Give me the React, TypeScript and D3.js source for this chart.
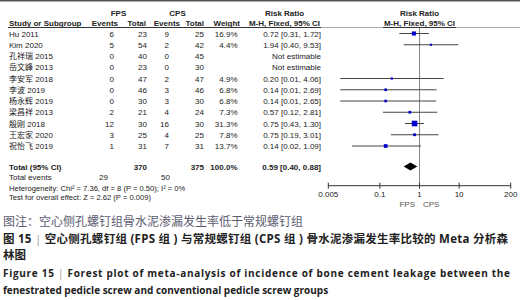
import React from "react";
import * as d3 from "d3";

const studies = ["Hu 2011", "Kim 2020", "孔祥瑞 2015", "岳文峰 2013", "李安军 2018", "李波 2019", "杨永辉 2019", "梁昌祥 2013", "殷刚 2018", "王宏家 2020", "祝怡飞 2019"];
const fpsEvents = [6, 5, 0, 0, 0, 0, 0, 2, 12, 3, 1];
const fpsTotal = [23, 54, 40, 23, 47, 46, 30, 21, 30, 25, 31];
const cpsEvents = [9, 2, 0, 0, 2, 3, 3, 4, 16, 4, 7];
const cpsTotal = [25, 42, 45, 30, 47, 46, 30, 24, 30, 25, 31];
const weights: (number | null)[] = [16.9, 4.4, null, null, 4.9, 6.8, 6.8, 7.3, 31.3, 7.8, 13.7];
const rr: (number | null)[] = [0.72, 1.94, null, null, 0.2, 0.14, 0.14, 0.57, 0.75, 0.75, 0.14];
const lo: (number | null)[] = [0.31, 0.4, null, null, 0.01, 0.01, 0.01, 0.12, 0.43, 0.19, 0.02];
const hi: (number | null)[] = [1.72, 9.53, null, null, 4.06, 2.69, 2.65, 2.81, 1.3, 3.01, 1.09];
const total = { fps: 370, cps: 375, weight: "100.0%", rr: 0.59, lo: 0.4, hi: 0.88, fpsEv: 29, cpsEv: 50 };
const tickValues = [0.005, 0.1, 1, 10, 200];
const tickLabels = ["0.005", "0.1", "1", "10", "200"];

const F = "'Liberation Sans', Arial, sans-serif";
const CJK = "'Noto Sans CJK SC', sans-serif";

export default function App() {
  const x = d3.scaleLog().domain([0.005, 200]).range([328.3, 510.7]);
  const rowY = (i: number) => 36.5 + 11.25 * i;
  const size = d3.scaleSqrt().domain([0, 31.3]).range([0, 5.6]);
  const fmt = (v: number) => v.toFixed(2);
  const axisY = 185.7;
  const totY = 169.5;
  const txt = { fontFamily: F, fontSize: 8, fill: "#222" } as const;

  return (
    <div style={{ position: "fixed", left: 0, top: 0, width: 531, height: 300, background: "#fff" }}>
      <svg width={531} height={300} style={{ display: "block" }}>
        <line x1={0} x2={520} y1={0.75} y2={0.75} stroke="#555" strokeWidth={1.5} />
        {/* header */}
        <g {...txt} fontWeight="bold">
          <text x={118.5} y={15.5} textAnchor="middle">FPS</text>
          <text x={177.5} y={15.5} textAnchor="middle">CPS</text>
          <text x={284.5} y={15.5} textAnchor="middle">Risk Ratio</text>
          <text x={419.5} y={15.5} textAnchor="middle">Risk Ratio</text>
          <text x={9} y={25.5}>Study or Subgroup</text>
          <text x={118} y={25.5} textAnchor="end">Events</text>
          <text x={146} y={25.5} textAnchor="end">Total</text>
          <text x={180} y={25.5} textAnchor="end">Events</text>
          <text x={204} y={25.5} textAnchor="end">Total</text>
          <text x={240} y={25.5} textAnchor="end">Weight</text>
          <text x={284.5} y={25.5} textAnchor="middle">M-H, Fixed, 95% CI</text>
          <text x={419.5} y={25.5} textAnchor="middle">M-H, Fixed, 95% CI</text>
        </g>
        <line x1={8} x2={520} y1={27.5} y2={27.5} stroke="#aaa" strokeWidth={1} />
        <line x1={8} x2={321} y1={27.5} y2={27.5} stroke="#333" strokeWidth={1} />
        <line x1={383} x2={456} y1={27.5} y2={27.5} stroke="#333" strokeWidth={1} />
        {/* vertical line at 1 */}
        <line x1={x(1)} x2={x(1)} y1={28} y2={axisY} stroke="#888" strokeWidth={1} />
        {/* rows */}
        {studies.map((s, i) => {
          const y = rowY(i);
          const w = weights[i];
          const r = rr[i];
          return (
            <g key={s}>
              <text {...txt} x={9} y={y} fontFamily={`'Liberation Sans', ${CJK}`}>{s}</text>
              <text {...txt} x={114} y={y} textAnchor="end">{fpsEvents[i]}</text>
              <text {...txt} x={147} y={y} textAnchor="end">{fpsTotal[i]}</text>
              <text {...txt} x={169} y={y} textAnchor="end">{cpsEvents[i]}</text>
              <text {...txt} x={204} y={y} textAnchor="end">{cpsTotal[i]}</text>
              {w !== null && <text {...txt} x={237.5} y={y} textAnchor="end">{w.toFixed(1)}%</text>}
              <text {...txt} x={321} y={y} textAnchor="end">
                {r === null ? "Not estimable" : `${fmt(r)} [${fmt(lo[i] as number)}, ${fmt(hi[i] as number)}]`}
              </text>
              {r !== null && (
                <g>
                  <line x1={x(lo[i] as number)} x2={x(hi[i] as number)} y1={y - 3} y2={y - 3} stroke="#444" strokeWidth={1} />
                  <rect
                    x={x(r) - size(w as number) / 2}
                    y={y - 3 - size(w as number) / 2}
                    width={size(w as number)}
                    height={size(w as number)}
                    fill="#0000cc"
                  />
                </g>
              )}
            </g>
          );
        })}
        {/* totals */}
        <g {...txt} fontWeight="bold">
          <text x={9} y={totY}>Total (95% CI)</text>
          <text x={147} y={totY} textAnchor="end">{total.fps}</text>
          <text x={204} y={totY} textAnchor="end">{total.cps}</text>
          <text x={237.5} y={totY} textAnchor="end">{total.weight}</text>
          <text x={321} y={totY} textAnchor="end">{`${fmt(total.rr)} [${fmt(total.lo)}, ${fmt(total.hi)}]`}</text>
        </g>
        <path
          d={`M${x(total.lo)},${totY - 3} L${x(total.rr)},${totY - 7} L${x(total.hi)},${totY - 3} L${x(total.rr)},${totY + 1} Z`}
          fill="#000"
        />
        <g {...txt}>
          <text x={9} y={180}>Total events</text>
          <text x={108} y={180} textAnchor="end">{total.fpsEv}</text>
          <text x={170} y={180} textAnchor="end">{total.cpsEv}</text>
          <text x={9} y={190.5} fontSize={7.6}>Heterogeneity: Chi² = 7.36, df = 8 (P = 0.50); I² = 0%</text>
          <text x={9} y={200} fontSize={7.6}>Test for overall effect: Z = 2.62 (P = 0.009)</text>
        </g>
        {/* axis */}
        <line x1={x(0.005)} x2={x(200)} y1={axisY} y2={axisY} stroke="#333" strokeWidth={1} />
        {tickValues.map((t, i) => (
          <g key={t}>
            <line x1={x(t)} x2={x(t)} y1={axisY - 3} y2={axisY + 3} stroke="#333" strokeWidth={1} />
            <text {...txt} x={x(t)} y={196.5} textAnchor="middle">{tickLabels[i]}</text>
          </g>
        ))}
        <text {...txt} x={415} y={206.5} textAnchor="end" fill="#555">FPS</text>
        <text {...txt} x={423} y={206.5} fill="#555">CPS</text>
        {/* captions */}
        <text x={3} y={226} fontFamily={CJK} fontSize={12} fill="#5c5c70">图注：空心侧孔螺钉组骨水泥渗漏发生率低于常规螺钉组</text>
        <text x={3} y={242.5} fontFamily={`'Open Sans', ${CJK}`} fontSize={11.5} fontWeight="bold" fill="#222" textLength={505} lengthAdjust="spacing">
          图 15 <tspan fill="#999" fontWeight="normal">|</tspan> 空心侧孔螺钉组 (FPS 组 ) 与常规螺钉组 (CPS 组 ) 骨水泥渗漏发生率比较的 Meta 分析森
        </text>
        <text x={3} y={258.5} fontFamily={CJK} fontSize={11.5} fontWeight="bold" fill="#222">林图</text>
        <text x={3} y={277} fontFamily="'Open Sans', sans-serif" fontSize={10} fontWeight="bold" fill="#222" textLength={507} lengthAdjust="spacing">
          Figure 15 <tspan fill="#999" fontWeight="normal">|</tspan> Forest plot of meta-analysis of incidence of bone cement leakage between the
        </text>
        <text x={3} y={294} fontFamily="'Open Sans', sans-serif" fontSize={10} fontWeight="bold" fill="#222">
          fenestrated pedicle screw and conventional pedicle screw groups
        </text>
      </svg>
    </div>
  );
}
